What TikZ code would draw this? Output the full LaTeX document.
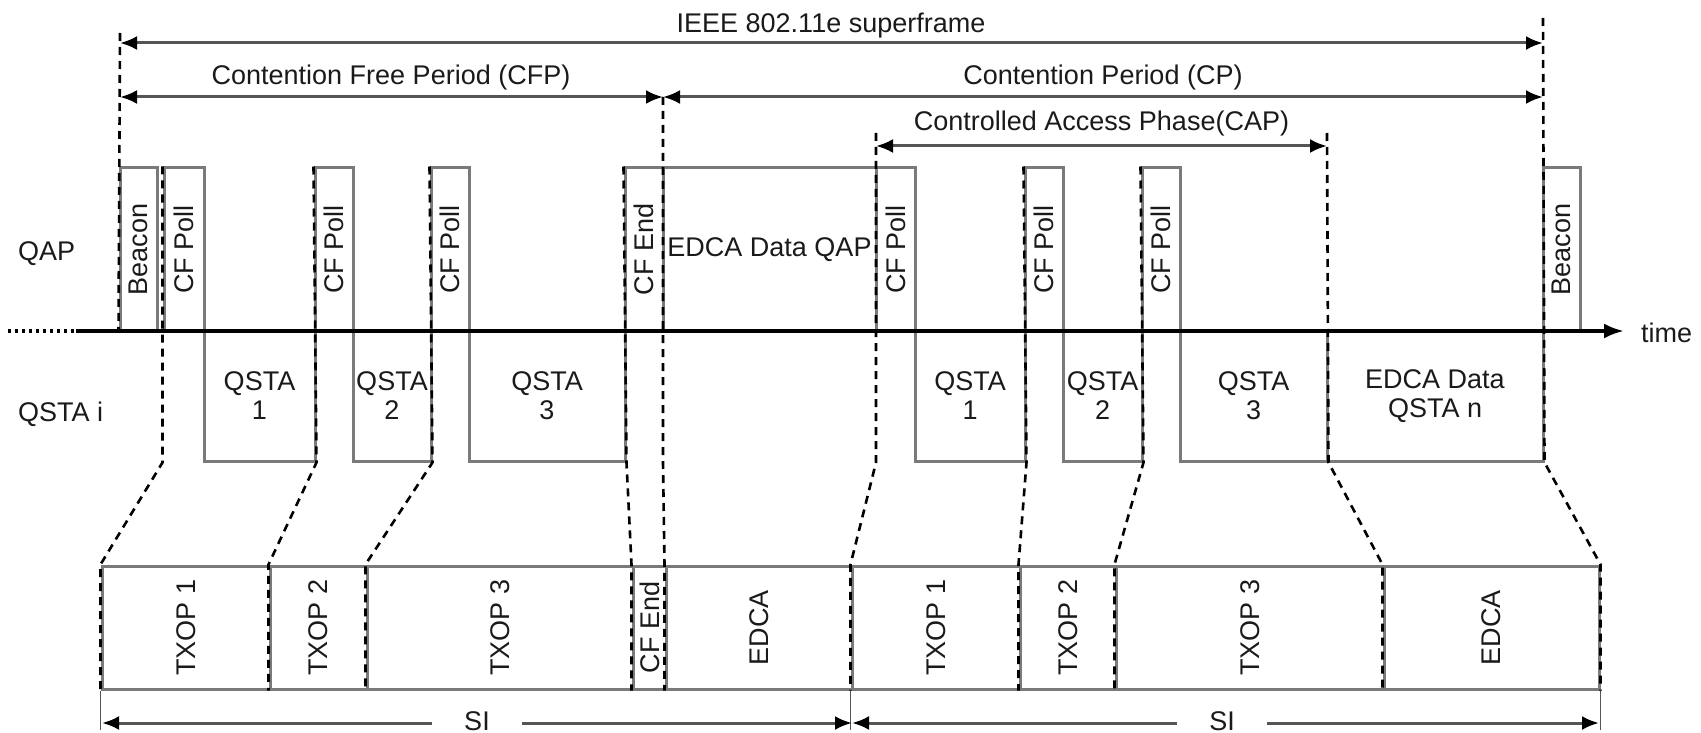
\documentclass[tikz,border=0pt]{standalone}
\usepackage{fontspec}
\setmainfont{Liberation Sans}
\usetikzlibrary{arrows.meta}
\definecolor{boxgray}{HTML}{7A7A7A}
\definecolor{dimgray}{HTML}{555555}
\definecolor{txt}{HTML}{1A1A1A}
\begin{document}
\begin{tikzpicture}[x=1pt,y=-1pt,
  font=\fontsize{27}{29}\selectfont,
  box/.style={draw=boxgray,line width=3pt,inner sep=0pt,text=txt,align=center},
  qap/.style={box,minimum height=163pt},
  qsta/.style={box,minimum height=130pt},
  low/.style={box,minimum height=123pt},
  cut/.style={draw=black,line width=2.6pt,dash pattern=on 8pt off 6pt},
  dim/.style={draw=dimgray,line width=3pt,{Latex[length=17pt,width=14pt,color=black]}-{Latex[length=17pt,width=14pt,color=black]}},
  lbl/.style={text=txt,inner sep=0pt},
  tick/.style={draw=dimgray,line width=1.6pt},
  axisline/.style={draw=black,line width=3.5pt,-{Latex[length=20pt,width=15pt]}},
]
\useasboundingbox (0,0) rectangle (1701,733);

% QAP frames
\node[qap,minimum width=37pt] (beaconA) at (138.5,249.5) {\rotatebox{90}{Beacon}};
\node[qap,minimum width=40pt] (pollA) at (184,249.5) {\rotatebox{90}{CF Poll}};
\node[qap,minimum width=38pt] (pollB) at (334,249.5) {\rotatebox{90}{CF Poll}};
\node[qap,minimum width=38pt] (pollC) at (450,249.5) {\rotatebox{90}{CF Poll}};
\node[qap,minimum width=38pt] (cfendA) at (644,249.5) {\rotatebox{90}{CF End}};
\node[qap,minimum width=213pt] (edcaQ) at (769.5,249.5) {EDCA Data QAP};
\node[qap,minimum width=39pt] (pollD) at (895.5,249.5) {\rotatebox{90}{CF Poll}};
\node[qap,minimum width=38pt] (pollE) at (1044,249.5) {\rotatebox{90}{CF Poll}};
\node[qap,minimum width=38pt] (pollF) at (1161,249.5) {\rotatebox{90}{CF Poll}};
\node[qap,minimum width=37pt] (beaconB) at (1561.5,249.5) {\rotatebox{90}{Beacon}};

% QSTA frames
\node[qsta,minimum width=111pt] (q1) at (259.5,396) {QSTA\\1};
\node[qsta,minimum width=78pt] (q2) at (392,396) {QSTA\\2};
\node[qsta,minimum width=156pt] (q3) at (547,396) {QSTA\\3};
\node[qsta,minimum width=110pt] (q4) at (970,396) {QSTA\\1};
\node[qsta,minimum width=79pt] (q5) at (1102.5,396) {QSTA\\2};
\node[qsta,minimum width=147pt] (q6) at (1253.5,396) {QSTA\\3};
\node[qsta,minimum width=216pt] (qn) at (1435,396) {EDCA Data\\QSTA n};

% lower intervals
\node[low,minimum width=168pt] (t1) at (186,627.5) {\rotatebox{90}{TXOP 1}};
\node[low,minimum width=97pt] (t2) at (318.5,627.5) {\rotatebox{90}{TXOP 2}};
\node[low,minimum width=266pt] (t3) at (500,627.5) {\rotatebox{90}{TXOP 3}};
\node[low,minimum width=33pt] (ce) at (649.5,627.5) {\rotatebox{90}{CF End}};
\node[low,minimum width=186pt] (e1) at (759,627.5) {\rotatebox{90}{EDCA}};
\node[low,minimum width=168pt] (t4) at (936,627.5) {\rotatebox{90}{TXOP 1}};
\node[low,minimum width=96pt] (t5) at (1068,627.5) {\rotatebox{90}{TXOP 2}};
\node[low,minimum width=268pt] (t6) at (1250,627.5) {\rotatebox{90}{TXOP 3}};
\node[low,minimum width=215pt] (e2) at (1491.5,627.5) {\rotatebox{90}{EDCA}};

% time axis
\coordinate (axS) at (8,331);
\coordinate (axL) at (76,331);
\coordinate (axR) at (1624,331);
\draw[black,line width=3.5pt,dash pattern=on 3pt off 4pt] (axS) -- (axL);
\draw[axisline] (axL) -- (axR);
\node[lbl,anchor=west] (timelbl) at (1641,333) {time};

% row labels
\node[lbl,anchor=base west] (qaplbl) at (18,260) {QAP};
\node[lbl,anchor=base west] (qstalbl) at (18,421) {QSTA i};

% marker coordinates
\coordinate (sfL) at (120,33);
\coordinate (sfR) at (1543,18);
\coordinate (cfpR) at (663,97);
\coordinate (capL) at (876,133);
\coordinate (capR) at (1327,133);

% dashed guide lines
\draw[cut] (sfL) -- (beaconA.south west);
\draw[cut] (pollA.north west) -- (pollA.north west |- q1.south) -- (t1.north west) -- (t1.south west);
\draw[cut] (pollB.north west) -- (q1.south east) -- (t2.north west) -- (t2.south west);
\draw[cut] (pollC.north west) -- (q2.south east) -- (t3.north west) -- (t3.south west);
\draw[cut] (cfendA.north west) -- (q3.south east) -- (ce.north west) -- (ce.south west);
\draw[cut] (cfpR) -- (cfpR |- q3.south) -- (e1.north west) -- (e1.south west);
\draw[cut] (capL) -- (capL |- q4.south) -- (t4.north west) -- (t4.south west);
\draw[cut] (pollE.north west) -- (q4.south east) -- (t5.north west) -- (t5.south west);
\draw[cut] (pollF.north west) -- (q5.south east) -- (t6.north west) -- (t6.south west);
\draw[cut] (capR) -- (q6.south east) -- (e2.north west) -- (e2.south west);
\draw[cut] (sfR) -- (qn.south east) -- (e2.north east) -- (e2.south east);

% dimension arrows (top)
\draw[dim] (sfL |- 0,43) -- (sfR |- 0,43);
\node[lbl,anchor=base] (sflbl) at (831,33) {IEEE 802.11e superframe};
\draw[dim] (sfL |- cfpR) -- (cfpR);
\node[lbl,anchor=base] (cfplbl) at (391,85) {Contention Free Period (CFP)};
\draw[dim] (cfpR) -- (sfR |- cfpR);
\node[lbl,anchor=base] (cplbl) at (1103,85) {Contention Period (CP)};
\draw[dim] (capL |- 0,146) -- (capR |- 0,146);
\node[lbl,anchor=base] (caplbl) at (1101.5,131) {Controlled Access Phase(CAP)};

% SI ticks and arrows
\draw[tick] (t1.south west) -- ++(0,39);
\draw[tick] (t4.south west) -- ++(0,39);
\draw[tick] (e2.south east) -- ++(0,39);
\coordinate (siA) at (102,723);
\coordinate (siB) at (852,723);
\coordinate (siC) at (1599,723);
\draw[dim] (siA) -- (siB);
\draw[dim] (siB) -- (siC);
\node[lbl,anchor=base,fill=white,inner xsep=32pt,inner ysep=0pt] (si1) at (477,730.5) {SI};
\node[lbl,anchor=base,fill=white,inner xsep=32pt,inner ysep=0pt] (si2) at (1222,730.5) {SI};
\end{tikzpicture}
\end{document}
